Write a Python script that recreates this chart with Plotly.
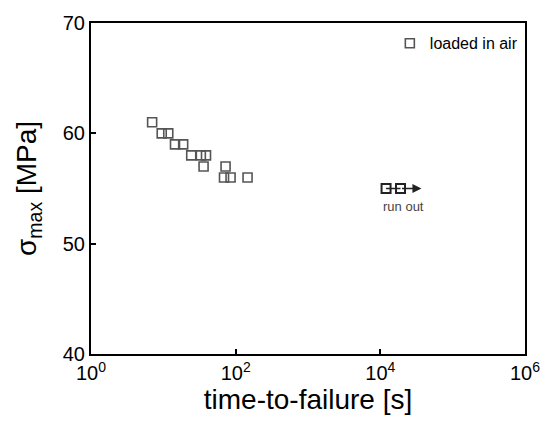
import plotly.graph_objects as go
import math

# data
time_air = [7.0, 9.5, 11.7, 14.5, 18.8, 24.3, 33, 38.9, 36, 72.5, 69, 85, 146]
stress_air = [61, 60, 60, 59, 59, 58, 58, 58, 57, 57, 56, 56, 56]
runout_time = [1.2e4, 1.9e4]
runout_stress = [55, 55]
runout_arrow_end = 3.7e4
x_tickvals = [1, 1e2, 1e4, 1e6]
x_ticktext = ["10<sup>0</sup>", "10<sup>2</sup>", "10<sup>4</sup>", "10<sup>6</sup>"]
y_tickvals = [40, 50, 60, 70]

FONT = "Liberation Sans, Arial, Helvetica, sans-serif"

fig = go.Figure()
fig.add_trace(go.Scatter(
    x=time_air, y=stress_air, mode="markers", name="loaded in air",
    marker=dict(symbol="square-open", size=9, color="#555555", line=dict(width=1.6)),
))
fig.add_trace(go.Scatter(
    x=runout_time, y=runout_stress, mode="lines+markers", showlegend=False,
    line=dict(color="#222222", width=1.5),
    marker=dict(symbol="square-open", size=9, color="#222222", line=dict(width=2)),
))
fig.add_annotation(
    x=math.log10(runout_arrow_end), y=runout_stress[-1], ax=math.log10(runout_time[-1]), ay=runout_stress[-1],
    xref="x", yref="y", axref="x", ayref="y", text="", showarrow=True,
    arrowhead=2, arrowsize=1.2, arrowwidth=1.5, arrowcolor="#222222",
)
fig.add_annotation(
    x=math.log10(math.sqrt(runout_time[0] * runout_arrow_end)), y=runout_stress[0],
    xref="x", yref="y", text="run out", showarrow=False, yshift=-18,
    font=dict(family=FONT, size=13, color="#444444"),
)

fig.update_layout(
    width=552, height=425,
    margin=dict(l=91, r=18, t=19, b=71),
    paper_bgcolor="white", plot_bgcolor="white",
    font=dict(family=FONT, color="black"),
    showlegend=True,
    legend=dict(x=0.995, y=0.99, xanchor="right", yanchor="top",
                bgcolor="rgba(0,0,0,0)", font=dict(size=16, family=FONT),
                itemwidth=30),
    xaxis=dict(
        type="log", range=[0, 6], tickvals=x_tickvals, ticktext=x_ticktext,
        ticks="inside", ticklen=5, tickwidth=1.5, tickcolor="black",
        showline=True, linecolor="black", linewidth=2, mirror=True,
        showgrid=False, zeroline=False,
        tickfont=dict(size=20, family=FONT),
        title=dict(text="time-to-failure [s]", font=dict(size=28, family=FONT), standoff=5),
    ),
    yaxis=dict(
        range=[40, 70], tickvals=y_tickvals,
        ticks="inside", ticklen=5, tickwidth=1.5, tickcolor="black",
        showline=True, linecolor="black", linewidth=2, mirror=True,
        showgrid=False, zeroline=False,
        tickfont=dict(size=20, family=FONT),
        title=dict(text="σ<sub>max</sub> [MPa]", font=dict(size=28, family=FONT), standoff=18),
    ),
)

fig.write_html("out.html")
